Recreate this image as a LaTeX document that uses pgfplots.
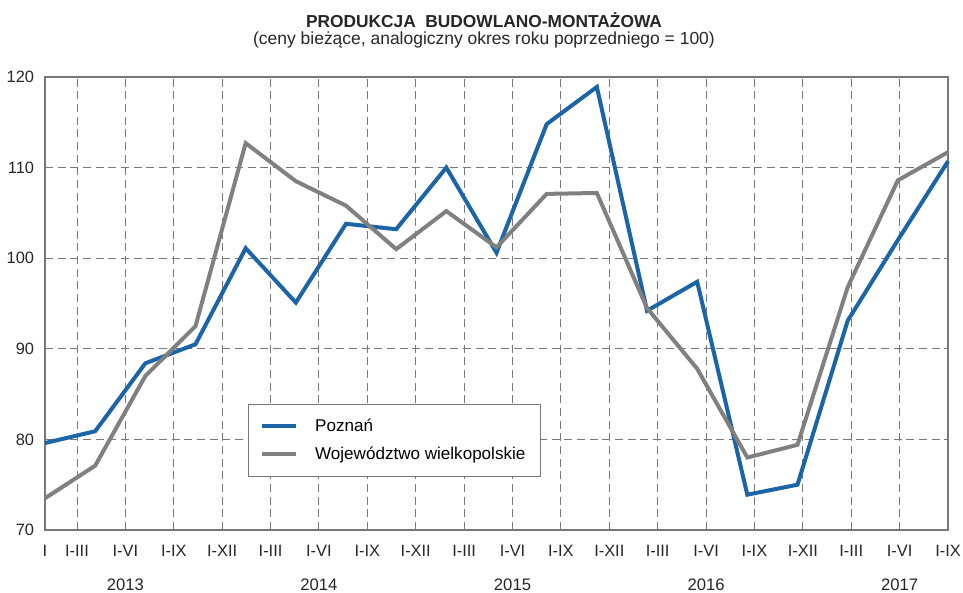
\documentclass[border=0pt]{standalone}
\usepackage{fontspec}
\setmainfont{Liberation Sans}
\usepackage{pgfplots}
\pgfplotsset{compat=1.18}

\definecolor{poznan}{RGB}{28,100,168}
\definecolor{woj}{RGB}{128,128,128}
\definecolor{gridc}{RGB}{120,120,120}
\tikzset{yearlab/.style={anchor=base, yshift=-45pt, font=\fontsize{12.5}{14}\selectfont, text=black!85}}

\begin{document}
\begin{tikzpicture}
\begin{axis}[
  scale only axis,
  width=677.25pt, height=339.75pt,
  xmin=0, xmax=903, ymin=70, ymax=120,
  ytick={70,80,...,120},
  xtick={0,32,80.39,128.78,177.17,225.56,273.94,322.33,370.72,419.11,467.5,
         515.89,564.28,612.67,661.06,709.44,757.83,806.22,854.61,903},
  xticklabels={I,I-III,I-VI,I-IX,I-XII,I-III,I-VI,I-IX,I-XII,I-III,I-VI,I-IX,
               I-XII,I-III,I-VI,I-IX,I-XII,I-III,I-VI,I-IX},
  major tick length=0pt,
  xmajorgrids, ymajorgrids,
  grid style={gridc, line width=0.75pt, dash pattern=on 6pt off 3.5pt},
  axis line style={gridc, line width=1pt},
  /pgf/number format/assume math mode=true,
  tick label style={font=\fontsize{12.3}{14}\selectfont, text=black!85},
  x tick label style={anchor=base, yshift=-19.5pt, inner sep=0pt},
  y tick label style={anchor=east, xshift=-8pt, inner sep=0pt},
  legend style={at={(rel axis cs:0.2248,0.2781)}, anchor=north west,
    draw=gridc, line width=0.75pt, inner xsep=9pt, inner ysep=9pt,
    row sep=6pt, font=\fontsize{12.8}{14}\selectfont,
    /tikz/every odd column/.append style={column sep=11pt}},
  legend cell align=left,
  legend image code/.code={\draw[#1] (0pt,0pt) -- (25pt,0pt);},
  clip=false,
]

% Poznan
\addplot[poznan, line width=3pt, line join=miter] coordinates {
  (0,79.6) (50.17,80.9) (100.33,88.4) (150.5,90.5) (200.67,101.1)
  (250.83,95.1) (301,103.8) (351.17,103.2) (401.33,110.0) (451.5,100.6)
  (501.67,114.8) (551.83,118.9) (602,94.2) (652.17,97.4) (702.33,73.9)
  (752.5,75.0) (802.67,93.1) (852.83,102.0) (903,110.7)
};
\addlegendentry{Poznań}

% Wojewodztwo
\addplot[woj, line width=3pt, line join=miter] coordinates {
  (0,73.5) (50.17,77.1) (100.33,87.0) (150.5,92.5) (200.67,112.7)
  (250.83,108.5) (301,105.8) (351.17,101.0) (401.33,105.2) (451.5,101.2)
  (501.67,107.1) (551.83,107.2) (602,94.5) (652.17,87.8) (702.33,78.0)
  (752.5,79.4) (802.67,96.8) (852.83,108.6) (903,111.7)
};
\addlegendentry{Województwo wielkopolskie}

% title
\node[anchor=base, font=\fontsize{13}{15}\selectfont\bfseries, text=black!85]
  at (axis cs:439,125.5) {PRODUKCJA\ \ BUDOWLANO-MONTAŻOWA};
\node[anchor=base, font=\fontsize{13.1}{15}\selectfont, text=black!85]
  at (axis cs:439,123.6) {(ceny bieżące, analogiczny okres roku poprzedniego = 100)};

% years
\node[yearlab] at (axis cs:80.39,70) {2013};
\node[yearlab] at (axis cs:273.94,70) {2014};
\node[yearlab] at (axis cs:467.5,70) {2015};
\node[yearlab] at (axis cs:661.06,70) {2016};
\node[yearlab] at (axis cs:854.61,70) {2017};
\draw[gridc, line width=0.75pt] (axis cs:177.17,70) ++(0,-30pt) -- ++(0,-17.25pt);
\draw[gridc, line width=0.75pt] (axis cs:370.72,70) ++(0,-30pt) -- ++(0,-17.25pt);
\draw[gridc, line width=0.75pt] (axis cs:564.28,70) ++(0,-30pt) -- ++(0,-17.25pt);
\draw[gridc, line width=0.75pt] (axis cs:757.83,70) ++(0,-30pt) -- ++(0,-17.25pt);
\end{axis}
\pgfresetboundingbox
\path (current axis.south west) +(-33.75pt,-47.25pt);
\path (current axis.north east) +(11.25pt,57.75pt);
\end{tikzpicture}
\end{document}
